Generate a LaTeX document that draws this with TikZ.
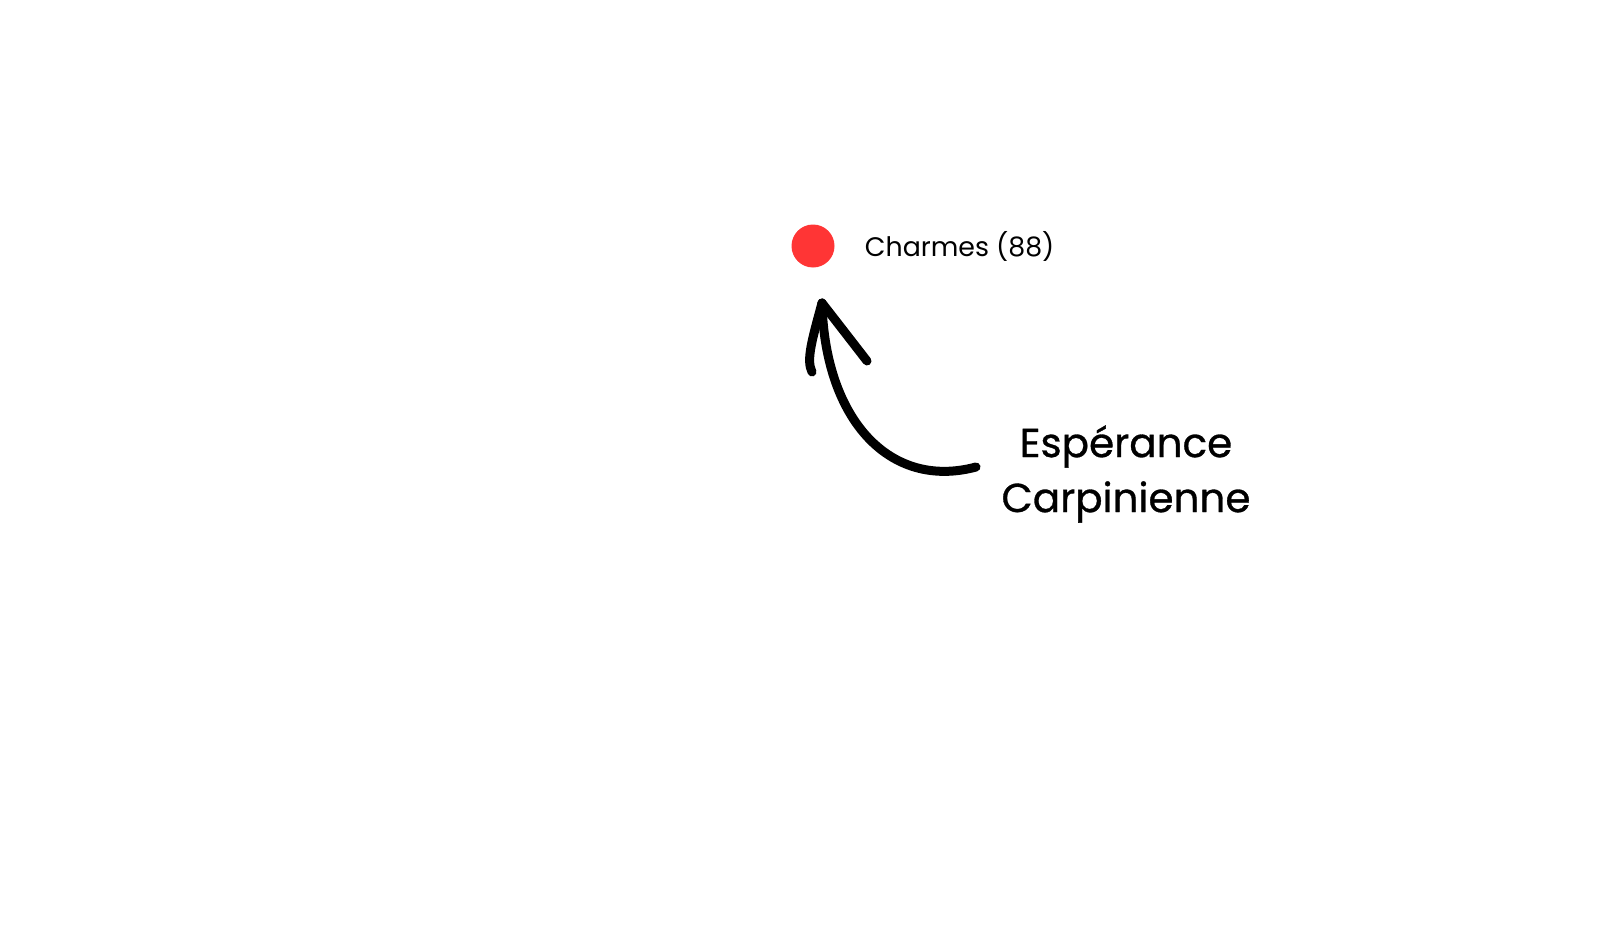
\documentclass[tikz,border=0pt]{standalone}
\usepackage{fontspec}
\setmainfont{Poppins}
\newfontfamily\notefont{Poppins}[FakeBold=0.8]
\usepackage{xcolor}
\definecolor{townred}{HTML}{FF3535}
\usetikzlibrary{positioning}

\begin{document}
\begin{tikzpicture}[
    x=1pt, y=-1pt,
    node distance=30pt,
    town/.style={circle, fill=townred, minimum size=43pt, inner sep=0pt},
    townlabel/.style={inner sep=0pt, font=\fontsize{26.8}{32}\selectfont},
    note/.style={align=center, inner sep=0pt, font=\notefont\fontsize{40.5}{55}\selectfont},
    pen/.style={line width=9pt, line cap=round, line join=round}
]
\useasboundingbox (0,0) rectangle (1600,934);

% Town
\node[town] (charmes) at (813,246) {};
\node[townlabel, right=of charmes] (charmeslabel) {Charmes (88)};

% Annotation
\node[note] (esperance) at (1126,474) {Espérance\\Carpinienne};
\coordinate (tail) at (976,467);
\coordinate (tip) at (822,303);
\draw[pen] (tail) .. controls (890,490) and (825,420) .. (tip);
\draw[pen] (tip) .. controls (812,340) and (806,360) .. (812,372);
\draw[pen] (tip) .. controls (843,330) .. (867,361);
\end{tikzpicture}
\end{document}
